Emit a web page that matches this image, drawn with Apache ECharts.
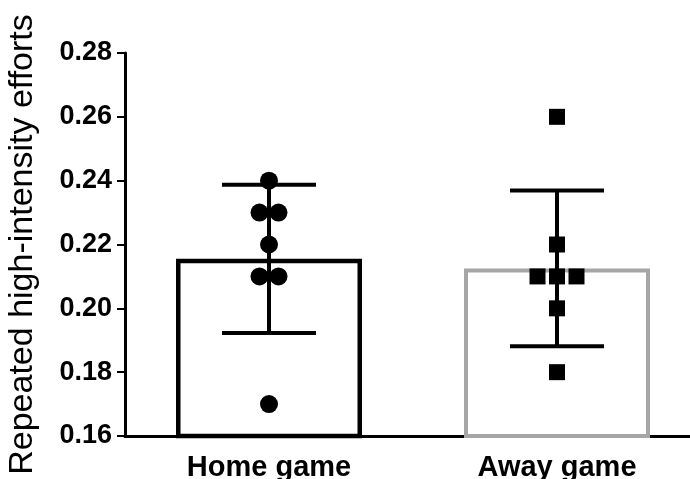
<!DOCTYPE html>
<html>
<head>
<meta charset="utf-8">
<script src="https://cdn.jsdelivr.net/npm/echarts@6/dist/echarts.min.js"></script>
<style>html,body{margin:0;padding:0;background:#fff}#c{width:690px;height:479px}</style>
</head>
<body>
<div id="c"></div>
<script>
var categories = ['Home game', 'Away game'];
var means = [0.2155, 0.2125];
var sds = [0.0232, 0.0244];
var homePoints = [0.24, 0.23, 0.23, 0.22, 0.21, 0.21, 0.17];
var awayPoints = [0.26, 0.22, 0.21, 0.21, 0.21, 0.20, 0.18];
var yTicks = [0.16, 0.18, 0.20, 0.22, 0.24, 0.26, 0.28];

function spread(points, catIndex, gap) {
  var counts = {}, seen = {};
  points.forEach(function (v) { counts[v] = (counts[v] || 0) + 1; });
  return points.map(function (v) {
    var i = seen[v] || 0; seen[v] = i + 1;
    var off = (i - (counts[v] - 1) / 2) * gap;
    return { value: [catIndex, v], symbolOffset: [off, 0] };
  });
}

var chart = echarts.init(document.getElementById('c'), null, { renderer: 'canvas' });
var font = 'Liberation Sans, Arial, sans-serif';
chart.setOption({
  animation: false,
  backgroundColor: '#fff',
  grid: { left: 125, top: 53, bottom: 43, right: -11, containLabel: false, outerBoundsMode: 'none' },
  xAxis: {
    type: 'category',
    data: categories,
    axisLine: { lineStyle: { color: '#000', width: 3 } },
    axisTick: { alignWithLabel: true, length: 7, lineStyle: { color: '#000', width: 2 } },
    axisLabel: { color: '#000', fontFamily: font, fontSize: 29, fontWeight: 'bold', margin: 17 },
    splitLine: { show: false }
  },
  yAxis: {
    type: 'value',
    min: yTicks[0], max: yTicks[yTicks.length - 1], interval: 0.02,
    name: 'Repeated high-intensity efforts',
    nameLocation: 'middle', nameRotate: 90, nameGap: 85,
    nameTextStyle: { color: '#000', fontFamily: font, fontSize: 34 },
    axisLine: { show: true, lineStyle: { color: '#000', width: 3 } },
    axisTick: { show: true, length: 8, lineStyle: { color: '#000', width: 2 } },
    axisLabel: { color: '#000', fontFamily: font, fontSize: 27, fontWeight: 'bold', margin: 13,
      formatter: function (v) { return v.toFixed(2); } },
    splitLine: { show: false }
  },
  series: [
    {
      type: 'bar', barWidth: 186, z: 1,
      data: means.map(function (m, i) {
        return { value: m, itemStyle: { color: '#fff', borderColor: i === 0 ? '#000' : '#a6a6a6', borderWidth: i === 0 ? 4.5 : 4 } };
      })
    },
    {
      type: 'custom', z: 3,
      data: means.map(function (m, i) { return [i, m - sds[i], m + sds[i]]; }),
      renderItem: function (params, api) {
        var lo = api.coord([api.value(0), api.value(1)]);
        var hi = api.coord([api.value(0), api.value(2)]);
        var half = 47;
        var st = { stroke: '#000', lineWidth: 4 };
        return { type: 'group', children: [
          { type: 'line', shape: { x1: lo[0], y1: lo[1], x2: hi[0], y2: hi[1] }, style: st },
          { type: 'line', shape: { x1: hi[0] - half, y1: hi[1], x2: hi[0] + half, y2: hi[1] }, style: st },
          { type: 'line', shape: { x1: lo[0] - half, y1: lo[1], x2: lo[0] + half, y2: lo[1] }, style: st }
        ] };
      }
    },
    {
      type: 'scatter', z: 4, symbol: 'circle', symbolSize: 18,
      itemStyle: { color: '#000', opacity: 1 },
      data: spread(homePoints, 0, 19)
    },
    {
      type: 'scatter', z: 4, symbol: 'rect', symbolSize: 16,
      itemStyle: { color: '#000', opacity: 1 },
      data: spread(awayPoints, 1, 19.5)
    }
  ]
});
</script>
</body>
</html>
